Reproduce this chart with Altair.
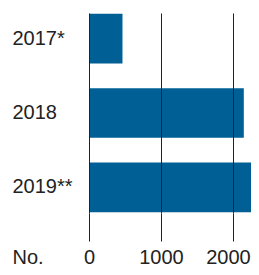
import altair as alt
import pandas as pd

years = ["2017*", "2018", "2019**"]
counts = [465, 2150, 2325]
x_ticks = [0, 1000, 2000]

df = pd.DataFrame({"year": years, "count": counts})

FONT = "Liberation Sans"

chart = alt.Chart(df).mark_bar(color="#005f94", clip=True).encode(
    x=alt.X(
        "count:Q",
        scale=alt.Scale(domain=[0, 2250], nice=False, zero=True),
        axis=alt.Axis(
            values=x_ticks,
            format="d",
            grid=True,
            gridColor="#222222",
            gridWidth=1,
            gridOpacity=1,
            domain=False,
            ticks=True,
            tickSize=28,
            tickColor="#222222",
            tickWidth=1,
            labelFont=FONT,
            labelFontSize=20,
            labelColor="#222222",
            labelBaseline="alphabetic",
            labelPadding=22,
            labelFlush=False,
            labelOverlap=False,
            labelOffset={"condition": {"test": "datum.value == 2000", "value": -5}, "value": 0},
            title="No.",
            titleFont=FONT,
            titleFontSize=20,
            titleFontWeight="normal",
            titleColor="#222222",
            titleAlign="left",
            titleBaseline="alphabetic",
            titleX=-77,
            titleY=50,
            titleAnchor="start",
            zindex=1,
        ),
    ),
    y=alt.Y(
        "year:N",
        sort=years,
        scale=alt.Scale(paddingInner=0.333, paddingOuter=0.01),
        axis=alt.Axis(
            domain=False,
            ticks=False,
            grid=False,
            labelFont=FONT,
            labelFontSize=20,
            labelColor="#222222",
            labelAlign="left",
            labelPadding=77,
            title=None,
        ),
    ),
).properties(
    width=162,
    height=200,
    autosize=alt.AutoSizeParams(type="none"),
    padding={"left": 81, "top": 5, "right": 0, "bottom": 54},
).configure_view(stroke=None)

chart.save("out.html", embed_options={"renderer": "svg", "actions": False})
